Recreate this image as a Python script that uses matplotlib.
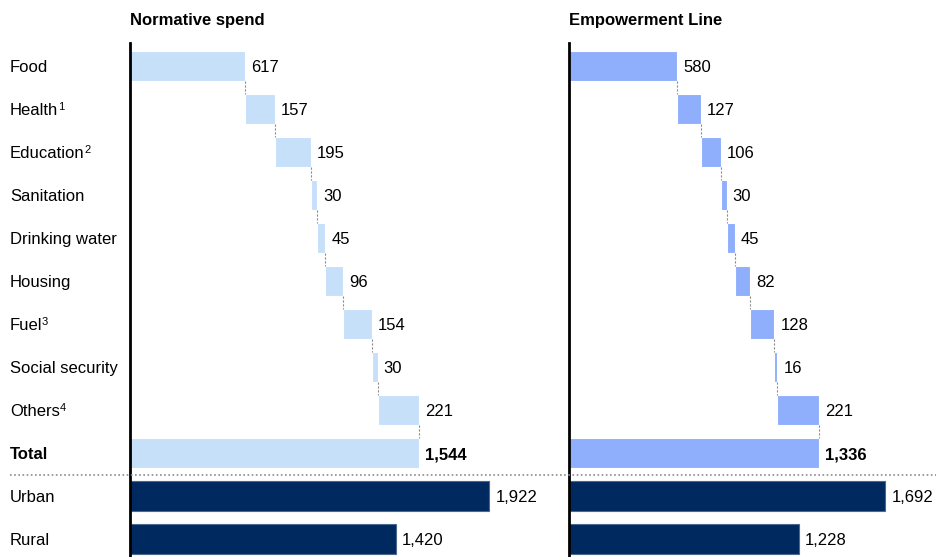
import numpy as np
import matplotlib.pyplot as plt
import matplotlib.transforms as mtransforms
from matplotlib.lines import Line2D

plt.rcParams['font.family'] = ['Liberation Sans', 'DejaVu Sans']

# Data
categories = ['Food', 'Health', 'Education', 'Sanitation', 'Drinking water',
              'Housing', 'Fuel', 'Social security', 'Others']
footnotes = ['', '1', '2', '', '', '', '3', '', '4']
normative = [617, 157, 195, 30, 45, 96, 154, 30, 221]
empowerment = [580, 127, 106, 30, 45, 82, 128, 16, 221]
totals = [1544, 1336]
urban = [1922, 1692]
rural = [1420, 1228]
panel_titles = ['Normative spend', 'Empowerment Line']
row_labels = categories + ['Total', 'Urban', 'Rural']

light_colors = ['#C6E0FA', '#8FAFFC']
navy = '#002960'

W, H = 937, 557
fig = plt.figure(figsize=(W / 100, H / 100), dpi=100)
fig.patch.set_facecolor('white')

px_per_unit = 0.187
ax_top = 43
row0, step = 66, 43
ylim = ((H - row0) / step, (ax_top - row0) / step)  # inverted

panels = [(130, 400), (569, 368)]
axes = []
for p, (left, width) in enumerate(panels):
    ax = fig.add_axes([left / W, 0, width / W, (H - ax_top) / H])
    ax.set_xlim(0, width / px_per_unit)
    ax.set_ylim(*ylim)
    for s in ['top', 'right', 'bottom']:
        ax.spines[s].set_visible(False)
    ax.spines['left'].set_linewidth(2)
    ax.spines['left'].set_color('black')
    ax.set_xticks([])
    ax.set_yticks([])
    ax.patch.set_alpha(0)
    axes.append(ax)

    vals = normative if p == 0 else empowerment
    starts = np.concatenate([[0], np.cumsum(vals)[:-1]])
    ys = np.arange(len(vals))
    ax.barh(ys, vals, left=starts, height=0.68, color=light_colors[p],
            edgecolor='white', linewidth=0.8)
    ax.barh(len(vals), totals[p], height=0.68, color=light_colors[p],
            edgecolor='white', linewidth=0.8)
    ax.barh([len(vals) + 1, len(vals) + 2], [urban[p], rural[p]], height=0.68,
            color=navy, edgecolor='#4a6890', linewidth=0.8)

    # connectors
    ends = starts + np.array(vals)
    for i in range(len(vals)):
        ax.plot([ends[i], ends[i]], [i + 0.34, i + 0.66], color='#8c8c8c',
                lw=0.8, ls=(0, (2, 1.5)))

    # value labels
    for i in range(len(vals)):
        ax.annotate(f'{vals[i]:,}', (ends[i], i), xytext=(6, 0),
                    textcoords='offset pixels', va='center_baseline', ha='left', fontsize=12)
    ax.annotate(f'{totals[p]:,}', (totals[p], len(vals)), xytext=(6, 0),
                textcoords='offset pixels', va='center_baseline', ha='left', fontsize=12,
                fontweight='bold')
    for j, v in enumerate([urban[p], rural[p]]):
        ax.annotate(f'{v:,}', (v, len(vals) + 1 + j), xytext=(6, 0),
                    textcoords='offset pixels', va='center_baseline', ha='left', fontsize=12)

    fig.text(left / W, 1 - 20 / H, panel_titles[p], fontsize=12,
             fontweight='bold', ha='left', va='center')

# row labels
trans = mtransforms.blended_transform_factory(fig.transFigure, axes[0].transData)
for i, lab in enumerate(row_labels):
    t = fig.text(10 / W, i, lab, transform=trans, fontsize=12, va='center_baseline',
                 ha='left', fontweight='bold' if lab == 'Total' else 'normal')
    if i < len(footnotes) and footnotes[i]:
        axes[0].annotate(footnotes[i], xy=(1, 0.52), xycoords=t, xytext=(-0.5, 0),
                         textcoords='offset pixels', fontsize=8, ha='left',
                         va='baseline', annotation_clip=False)

# dotted separator
fig.add_artist(Line2D([10 / W, 1], [len(categories) + 0.5] * 2, transform=trans,
                      color='#8c8c8c', lw=1.2, ls=(0, (1, 1.5))))

plt.savefig('out.png', dpi=100, facecolor='white')
plt.close()
